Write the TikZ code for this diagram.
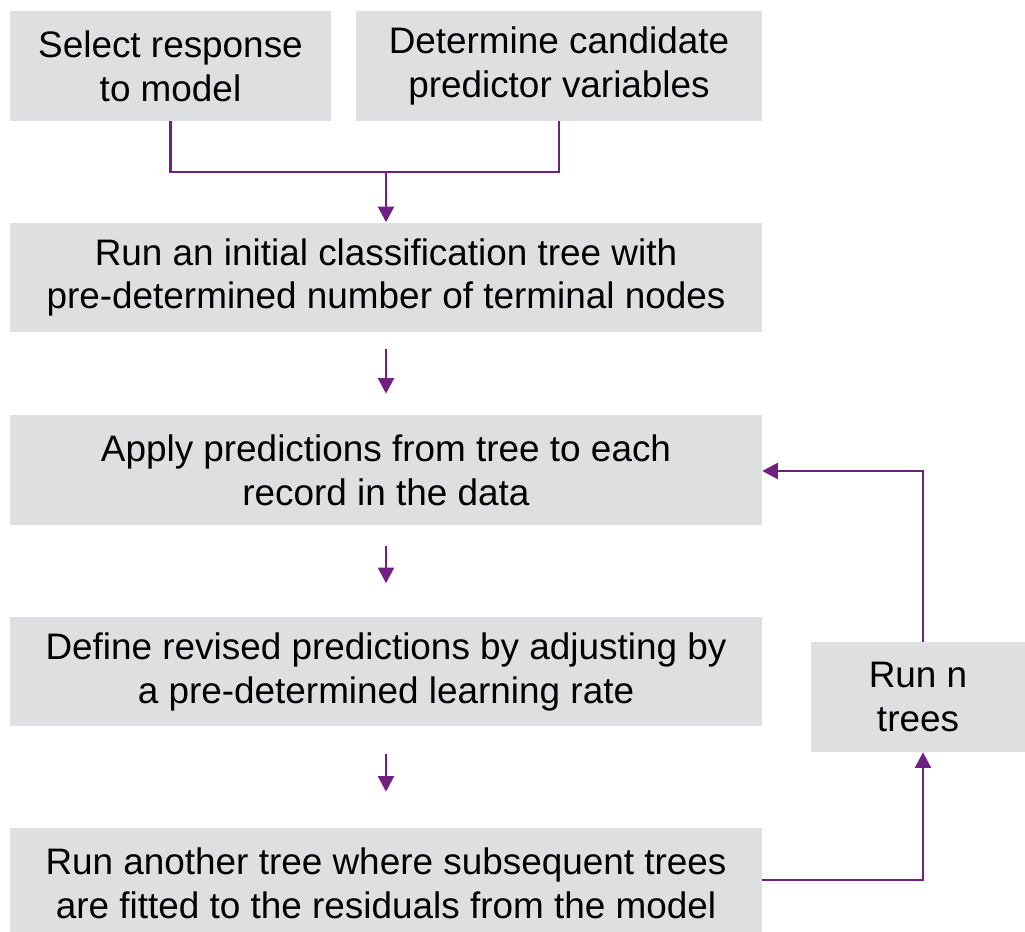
\documentclass[tikz,border=0pt]{standalone}
\usepackage{fontspec}
\setmainfont{Liberation Sans}
\usetikzlibrary{arrows.meta}

\tikzset{
  stepbox/.style={fill=boxgray, text=black, align=center, inner sep=0pt,
    minimum height=2.2cm, font=\fontsize{21}{25}\selectfont},
  flow/.style={draw=flowpurple, line width=1.2pt,
    -{Triangle[width=0.32cm, length=0.31cm]}},
  link/.style={draw=flowpurple, line width=1.2pt}
}

\begin{document}
\begin{tikzpicture}[x=0.02cm, y=-0.02cm]
  \definecolor{boxgray}{RGB}{222,223,225}
  \definecolor{flowpurple}{RGB}{112,32,130}
  \useasboundingbox (0, 0) rectangle (1025, 932);

  % draw input boxes
  \node[stepbox, minimum width=6.42cm] (resp) at (170.5, 66) {Select response\\to model};
  \node[stepbox, minimum width=8.12cm] (pred) at (559, 66) {Determine candidate\\predictor variables};

  % draw main steps
  \node[stepbox, minimum width=15.04cm] (init) at (386, 277.5) {Run an initial classification tree with\\pre-determined number of terminal nodes};
  \node[stepbox, minimum width=15.04cm] (apply) at (386, 470) {Apply predictions from tree to each\\record in the data};
  \node[stepbox, minimum width=15.04cm] (revise) at (386, 671.5) {Define revised predictions by adjusting by\\a pre-determined learning rate};
  \node[stepbox, minimum width=15.04cm] (another) at (386, 883) {Run another tree where subsequent trees\\are fitted to the residuals from the model};

  % draw loop box
  \node[stepbox, minimum width=4.28cm] (ntrees) at (918, 697) {Run n\\trees};

  % draw joining lines
  \coordinate (join) at (386, 172);
  \draw[link] (resp.south) |- (join);
  \draw[link] (pred.south) |- (join);
  \draw[flow] (join) -- (init.north);

  % draw step arrows
  \draw[flow, shorten <=0.32cm, shorten >=0.42cm] (init.south) -- (apply.north);
  \draw[flow, shorten <=0.42cm, shorten >=0.66cm] (apply.south) -- (revise.north);
  \draw[flow, shorten <=0.54cm, shorten >=0.72cm] (revise.south) -- (another.north);

  % draw loop back
  \coordinate (loopin) at (923, 880);
  \coordinate (loopout) at (923, 471);
  \draw[flow] (another.east |- loopin) -| (ntrees.south -| loopin);
  \draw[flow] (ntrees.north -| loopout) |- (apply.east |- loopout);
\end{tikzpicture}
\end{document}
